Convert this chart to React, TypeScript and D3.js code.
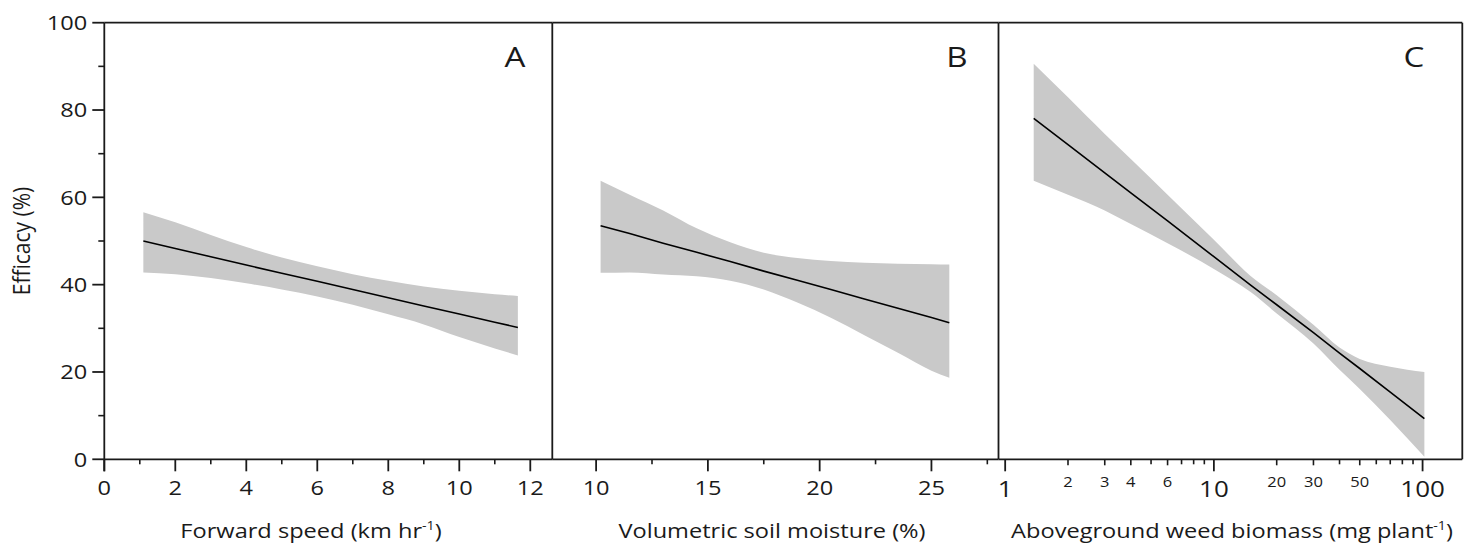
import React from "react";
import * as d3 from "d3";

// ---- data ----
const EFFICACY_TICKS = [0, 20, 40, 60, 80, 100];
const EFFICACY_MINOR = [10, 30, 50, 70, 90];

// A: forward speed (km/hr)
const speedX = [1.1, 2, 3, 4, 5, 6, 7, 8, 9, 10, 11, 11.65];
const speedFit = [50.0, 48.3, 46.4, 44.5, 42.6, 40.8, 38.9, 37.0, 35.1, 33.3, 31.4, 30.2];
const speedLo = [42.8, 42.4, 41.5, 40.3, 38.9, 37.3, 35.4, 33.2, 30.9, 28.0, 25.4, 23.8];
const speedHi = [56.6, 54.3, 51.4, 48.6, 46.2, 44.2, 42.4, 40.9, 39.6, 38.6, 37.8, 37.4];
const speedTicks = [0, 2, 4, 6, 8, 10, 12];
const speedMinor = [1, 3, 5, 7, 9, 11];

// B: volumetric soil moisture (%)
const moistX = [10.2, 11.5, 13, 14.5, 16, 17.5, 19, 20.5, 22, 23.5, 25, 25.8];
const moistFit = [53.5, 51.7, 49.5, 47.4, 45.3, 43.1, 41.0, 38.9, 36.7, 34.6, 32.5, 31.3];
const moistLo = [42.7, 42.8, 42.3, 41.9, 40.9, 38.9, 35.9, 32.4, 28.4, 24.4, 20.3, 18.7];
const moistHi = [63.8, 60.6, 57.0, 52.9, 49.7, 47.3, 46.1, 45.4, 45.0, 44.8, 44.7, 44.6];
const moistTicks = [10, 15, 20, 25];
const moistMinor = [12.5, 17.5, 22.5, 27.5];

// C: aboveground weed biomass (mg/plant), log axis
const biomassX = [1.37, 2, 3, 4, 6, 10, 15, 20, 30, 40, 50, 70, 102];
const biomassFit = [78.1, 72.1, 65.6, 61.0, 54.6, 46.4, 39.9, 35.4, 29.0, 24.3, 20.8, 15.4, 9.3];
const biomassLo = [63.8, 60.6, 57.0, 53.9, 49.5, 43.6, 38.3, 33.4, 26.5, 20.5, 16.1, 9.0, 0.6];
const biomassHi = [90.6, 82.9, 74.5, 68.8, 60.6, 50.3, 42.0, 37.6, 30.8, 25.6, 23.0, 21.2, 20.0];
const biomassMajor = [1, 10, 100];
const biomassSmallLabels = [2, 3, 4, 6, 20, 30, 50];
const biomassMinor = [2, 3, 4, 5, 6, 7, 8, 9, 20, 30, 40, 50, 60, 70, 80, 90];

// ---- layout ----
const W = 1471;
const H = 544;
const TOP = 22.7;
const BOTTOM = 459.3;
const FONT = "'Open Sans', 'Noto Sans', sans-serif";
const INK = "#1a1a1a";
const BAND = "#c9c9c9";
const SX = 1.18; // the figure's lettering is stretched sideways

const y = d3.scaleLinear().domain([0, 100]).range([BOTTOM, TOP]);

// text that carries the sideways stretch of the original
function T({ x, y, size, anchor = "middle", children, dy }: any) {
  return (
    <text
      transform={`translate(${x},${y}) scale(${SX},1)`}
      textAnchor={anchor}
      fontSize={size}
      fontFamily={FONT}
      fill={INK}
      dy={dy}
    >
      {children}
    </text>
  );
}

const panels = [
  {
    letter: "A",
    letterX: 515,
    title: "Forward speed (km hr",
    sup: "-1",
    tail: ")",
    titleX: 311,
    x: d3.scaleLinear().domain([0, 12.62]).range([104.3, 552.3]),
    xs: speedX, fit: speedFit, lo: speedLo, hi: speedHi,
    ticks: speedTicks, minor: speedMinor,
  },
  {
    letter: "B",
    letterX: 957,
    title: "Volumetric soil moisture (%)",
    sup: "",
    tail: "",
    titleX: 772,
    x: d3.scaleLinear().domain([8.04, 28.0]).range([552.3, 998.5]),
    xs: moistX, fit: moistFit, lo: moistLo, hi: moistHi,
    ticks: moistTicks, minor: moistMinor,
  },
  {
    letter: "C",
    letterX: 1414,
    title: "Aboveground weed biomass (mg plant",
    sup: "-1",
    tail: ")",
    titleX: 1232,
    x: d3.scaleLog().domain([0.929, 155]).range([998.5, 1462.3]),
    xs: biomassX, fit: biomassFit, lo: biomassLo, hi: biomassHi,
    ticks: biomassMajor, minor: biomassMinor, log: true,
  },
];

function Panel({ p }: { p: any }) {
  const [x0, x1] = p.x.range();
  const idx = d3.range(p.xs.length);
  const area = d3
    .area<number>()
    .x((i) => p.x(p.xs[i]))
    .y0((i) => y(p.lo[i]))
    .y1((i) => y(p.hi[i]))
    .curve(d3.curveMonotoneX);
  const line = d3
    .line<number>()
    .x((i) => p.x(p.xs[i]))
    .y((i) => y(p.fit[i]));

  return (
    <g>
      <path d={area(idx) || ""} fill={BAND} />
      <path d={line(idx) || ""} fill="none" stroke="#000" strokeWidth={1.6} />
      {/* frame */}
      <line x1={x0} x2={x1} y1={TOP} y2={TOP} stroke={INK} strokeWidth={1.8} />
      <line x1={x0} x2={x1} y1={BOTTOM} y2={BOTTOM} stroke={INK} strokeWidth={1.8} />
      <line x1={x1} x2={x1} y1={TOP} y2={BOTTOM} stroke={INK} strokeWidth={1.8} />
      {/* ticks */}
      {p.minor.map((t: number) => (
        <line key={"m" + t} x1={p.x(t)} x2={p.x(t)} y1={BOTTOM} y2={BOTTOM + (p.log && biomassSmallLabels.includes(t) ? 6 : 5)} stroke={INK} strokeWidth={1.6} />
      ))}
      {p.ticks.map((t: number) => (
        <g key={"t" + t}>
          <line x1={p.x(t)} x2={p.x(t)} y1={BOTTOM} y2={BOTTOM + 12} stroke={INK} strokeWidth={1.8} />
          <T x={p.x(t)} y={p.log ? 497 : 495} size={p.log ? 22 : 20}>
            {t}
          </T>
        </g>
      ))}
      {p.log &&
        biomassSmallLabels.map((t) => (
          <T key={"s" + t} x={p.x(t)} y={487} size={14}>
            {t}
          </T>
        ))}
      <T x={p.letterX} y={67} size={28}>
        {p.letter}
      </T>
      <T x={p.titleX} y={538} size={20}>
        {p.title}
        {p.sup && (
          <tspan fontSize={12} dy={-8}>
            {p.sup}
          </tspan>
        )}
        {p.tail && <tspan dy={p.sup ? 8 : 0}>{p.tail}</tspan>}
      </T>
    </g>
  );
}

export default function App() {
  const axisX = panels[0].x.range()[0];
  return (
    <svg width={W} height={H} style={{ position: "absolute", left: 0, top: 0, background: "#fff" }}>
      {panels.map((p) => (
        <Panel key={p.letter} p={p} />
      ))}
      {/* efficacy axis */}
      <line x1={axisX} x2={axisX} y1={TOP} y2={BOTTOM + 12} stroke={INK} strokeWidth={1.8} />
      {EFFICACY_MINOR.map((t) => (
        <line key={"ym" + t} x1={axisX - 6} x2={axisX} y1={y(t)} y2={y(t)} stroke={INK} strokeWidth={1.6} />
      ))}
      {EFFICACY_TICKS.map((t) => (
        <g key={"y" + t}>
          <line x1={axisX - 12} x2={axisX} y1={y(t)} y2={y(t)} stroke={INK} strokeWidth={1.8} />
          <T x={axisX - 17} y={y(t)} size={20} anchor="end" dy="0.36em">
            {t}
          </T>
        </g>
      ))}
      <text
        transform={`translate(30, ${(TOP + BOTTOM) / 2}) rotate(-90) scale(1, 1.1)`}
        textAnchor="middle"
        fontSize={21}
        fontFamily={FONT}
        fill={INK}
      >
        Efficacy (%)
      </text>
    </svg>
  );
}
